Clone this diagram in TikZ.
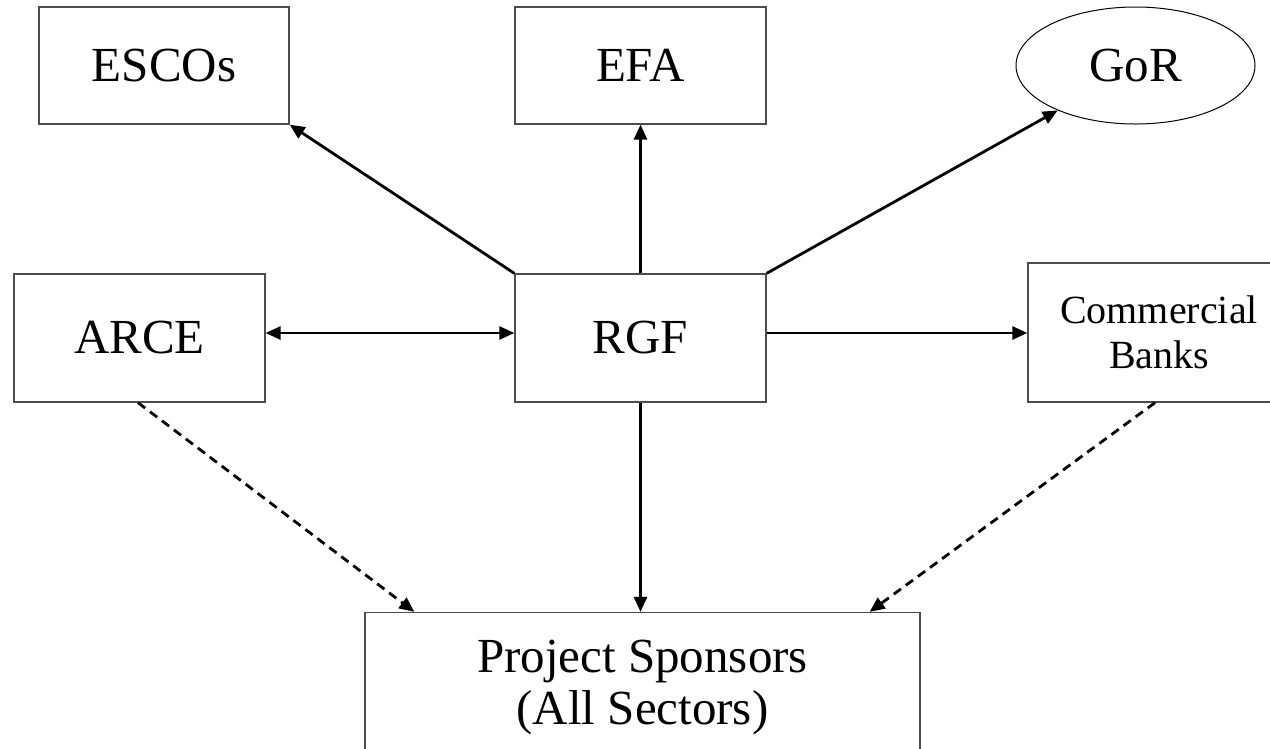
\documentclass[tikz,border=0pt]{standalone}
\usepackage{fontspec}
\setmainfont{Liberation Serif}
\usetikzlibrary{arrows.meta,shapes.geometric,calc}
\begin{document}
\begin{tikzpicture}[x=1pt,y=-1pt,
  box/.style={draw=black!70,line width=1.3pt,rectangle,inner sep=0pt,align=center,font=\fontsize{49}{54}\selectfont},
  oval/.style={draw=black,line width=1pt,ellipse,inner sep=0pt,align=center,font=\fontsize{49}{54}\selectfont},
  tip/.tip={Triangle[length=15pt,width=13pt]},
  conn/.style={line width=2.8pt,-tip},
  bconn/.style={line width=2.8pt,tip-tip},
  dconn/.style={line width=2.8pt,dash pattern=on 9pt off 6pt,-tip}]
\useasboundingbox[fill=white] (0,0) rectangle (1270,748);
\node[box,minimum width=250pt,minimum height=117pt] (escos) at (164,65.5) {ESCOs};
\node[box,minimum width=251pt,minimum height=117pt] (efa) at (640.5,65.5) {EFA};
\node[oval,minimum width=239pt,minimum height=117pt] (gor) at (1135.5,65.5) {GoR};
\node[box,minimum width=251pt,minimum height=128pt] (arce) at (139.5,338) {ARCE};
\node[box,minimum width=251pt,minimum height=128pt] (rgf) at (640.5,338) {RGF};
\node[box,minimum width=262pt,minimum height=139pt,font=\fontsize{40}{45}\selectfont] (banks) at (1159,332.5) {Commercial\\Banks};
\node[box,minimum width=555pt,minimum height=149pt,font=\fontsize{49}{52}\selectfont] (proj) at (642.5,687) {Project Sponsors\\(All Sectors)};
\coordinate (h) at (0,333);
\draw[conn] (rgf.north west) -- (escos.south east);
\draw[conn] (rgf.north) -- (efa.south);
\draw[conn] (rgf.north east) -- (gor.210);
\draw[bconn] (arce.east |- h) -- (rgf.west |- h);
\draw[conn] (rgf.east |- h) -- (banks.west |- h);
\draw[conn] (rgf.south) -- (rgf.south |- proj.north);
\draw[dconn] ($(arce.south)+(-1.5,0)$) -- ($(proj.north west)+(50,0)$);
\draw[dconn] ($(banks.south)+(-4,0)$) -- ($(proj.north east)+(-51,0)$);
\end{tikzpicture}
\end{document}
